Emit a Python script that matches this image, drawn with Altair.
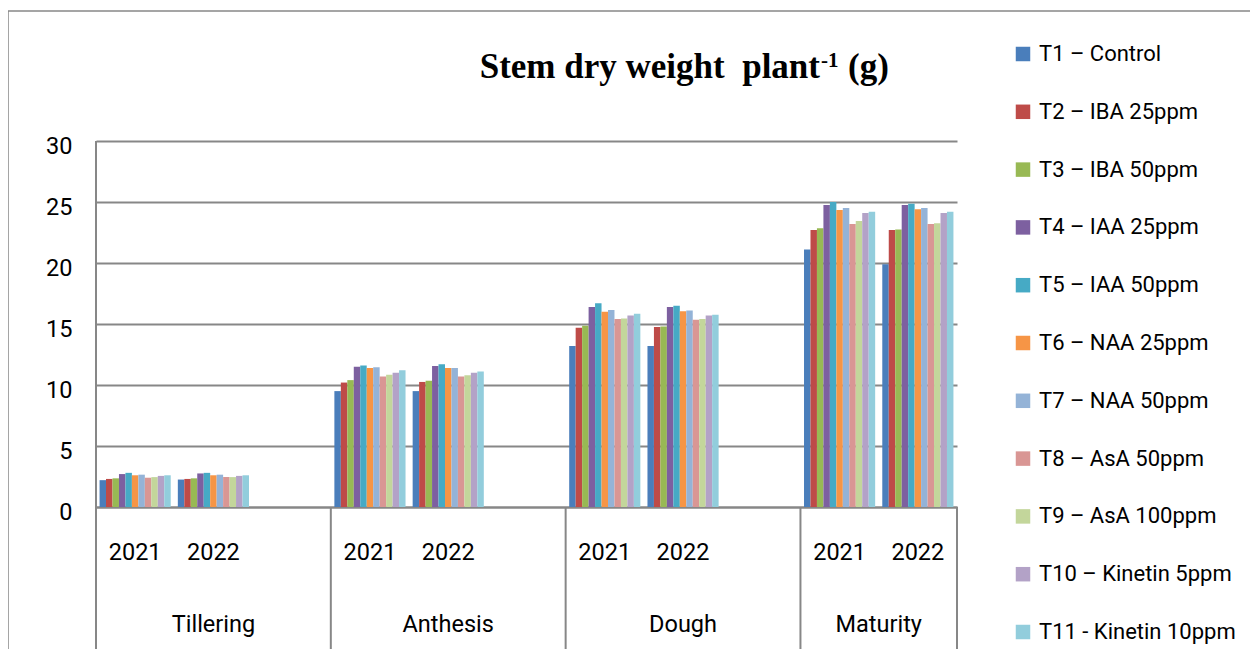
import altair as alt
import pandas as pd

# ---------------- data ----------------
series = ["T1 – Control", "T2 – IBA 25ppm", "T3 – IBA 50ppm", "T4 – IAA 25ppm",
          "T5 – IAA 50ppm", "T6 – NAA 25ppm", "T7 – NAA 50ppm", "T8 – AsA 50ppm",
          "T9 – AsA 100ppm", "T10 – Kinetin 5ppm", "T11 - Kinetin 10ppm"]
colors = ["#4A7EBB", "#BE4B48", "#98B954", "#7D60A0", "#46AAC5", "#F69546",
          "#94B3D7", "#D99694", "#C3D69B", "#B3A2C7", "#92CDDC"]
stages = ["Tillering", "Anthesis", "Dough", "Maturity"]
years = ["2021", "2022"]

tillering_2021 = [2.2, 2.3, 2.35, 2.7, 2.8, 2.6, 2.65, 2.4, 2.45, 2.55, 2.6]
tillering_2022 = [2.25, 2.3, 2.35, 2.75, 2.8, 2.6, 2.65, 2.45, 2.45, 2.55, 2.6]
anthesis_2021 = [9.5, 10.2, 10.4, 11.5, 11.6, 11.4, 11.45, 10.7, 10.85, 11.0, 11.2]
anthesis_2022 = [9.5, 10.25, 10.35, 11.55, 11.7, 11.4, 11.4, 10.7, 10.8, 11.0, 11.1]
dough_2021 = [13.2, 14.7, 14.85, 16.4, 16.7, 16.0, 16.15, 15.4, 15.45, 15.7, 15.85]
dough_2022 = [13.2, 14.75, 14.8, 16.4, 16.5, 16.05, 16.1, 15.35, 15.4, 15.7, 15.75]
maturity_2021 = [21.1, 22.7, 22.85, 24.75, 25.0, 24.35, 24.5, 23.2, 23.45, 24.1, 24.2]
maturity_2022 = [19.9, 22.7, 22.75, 24.75, 24.85, 24.4, 24.5, 23.2, 23.25, 24.1, 24.2]

y_ticks = [0, 5, 10, 15, 20, 25, 30]

values = {
    ("Tillering", "2021"): tillering_2021, ("Tillering", "2022"): tillering_2022,
    ("Anthesis", "2021"): anthesis_2021, ("Anthesis", "2022"): anthesis_2022,
    ("Dough", "2021"): dough_2021, ("Dough", "2022"): dough_2022,
    ("Maturity", "2021"): maturity_2021, ("Maturity", "2022"): maturity_2022,
}

slots = []
for i, st in enumerate(stages):
    for yr in years:
        slots.append(f"{st} {yr}")
    if i < len(stages) - 1:
        slots.append(f"{st} gap")

rows = []
for (st, yr), vals in values.items():
    for s, v in zip(series, vals):
        rows.append({"slot": f"{st} {yr}", "series": s, "value": v})
df = pd.DataFrame(rows)

# ---------------- layout ----------------
W, H = 861, 366
PAD_L, PAD_T = 88, 133
PAD_R = 1242 - PAD_L - W
PAD_B = 641 - PAD_T - H
GRAY = "#878787"
FONT = "Roboto"

x_scale = alt.Scale(domain=slots, paddingInner=0, paddingOuter=0)

bars = alt.Chart(df).mark_bar(strokeWidth=0).encode(
    x=alt.X("slot:N", scale=x_scale, sort=slots,
            axis=alt.Axis(title=None, ticks=False, tickSize=0, labelAngle=0,
                          labelExpr="indexof(datum.value, 'gap') >= 0 ? '' : split(datum.value, ' ')[1]",
                          labelPadding=45, labelBaseline="middle", labelFont=FONT,
                          labelFontSize=23.5, labelColor="black",
                          domainColor=GRAY, domainWidth=2, grid=False)),
    xOffset=alt.XOffset("series:N", scale=alt.Scale(domain=series, paddingInner=0,
                                                     paddingOuter=0.55), sort=series),
    y=alt.Y("value:Q", scale=alt.Scale(domain=[0, 30], nice=False),
            axis=alt.Axis(title=None, values=y_ticks, ticks=False, labelPadding=24,
                          labelOffset=5, labelFont=FONT, labelFontSize=23.5,
                          labelColor="black", domain=False, grid=True,
                          gridColor=GRAY, gridWidth=2)),
    color=alt.Color("series:N", scale=alt.Scale(domain=series, range=colors), sort=series,
                    legend=alt.Legend(title=None, orient="none", legendX=916, legendY=-98,
                                      symbolType="square", symbolSize=210, symbolStrokeWidth=0,
                                      labelFont=FONT, labelFontSize=22, labelColor="black",
                                      labelOffset=5, labelLimit=400, rowPadding=35.8,
                                      padding=0, direction="vertical")),
)

one = pd.DataFrame({"k": [0]})

# separators between stages (below the axis)
sep_df = pd.DataFrame({"slot": [s for s in slots if s.endswith("gap")]})
seps = alt.Chart(sep_df).mark_rule(color=GRAY, strokeWidth=2).encode(
    x=alt.X("slot:N", scale=x_scale, sort=slots, bandPosition=1),
    y=alt.value(H), y2=alt.value(H + PAD_B),
)
left_line = alt.Chart(one).mark_rule(color=GRAY, strokeWidth=2).encode(
    x=alt.value(0), y=alt.value(0), y2=alt.value(H + PAD_B))
right_line = alt.Chart(one).mark_rule(color=GRAY, strokeWidth=2).encode(
    x=alt.value(W), y=alt.value(H), y2=alt.value(H + PAD_B))

# outer chart frame
frame_top = alt.Chart(one).mark_rule(color=GRAY, strokeWidth=1.5).encode(
    x=alt.value(-PAD_L), x2=alt.value(W + PAD_R), y=alt.value(-PAD_T + 3))
frame_left = alt.Chart(one).mark_rule(color=GRAY, strokeWidth=1.5).encode(
    x=alt.value(-PAD_L), y=alt.value(-PAD_T + 3), y2=alt.value(H + PAD_B))

# stage labels
st_df = pd.DataFrame({"slot": [f"{s} 2022" for s in stages[:3]], "label": stages[:3]})
stage_txt = alt.Chart(st_df).mark_text(font=FONT, fontSize=23.5, color="black",
                                       baseline="middle", align="center").encode(
    x=alt.X("slot:N", scale=x_scale, sort=slots, bandPosition=0.5),
    y=alt.value(H + 118), text="label:N")
mat_df = pd.DataFrame({"slot": ["Maturity 2021"], "label": [stages[3]]})
mat_txt = alt.Chart(mat_df).mark_text(font=FONT, fontSize=23.5, color="black",
                                      baseline="middle", align="center").encode(
    x=alt.X("slot:N", scale=x_scale, sort=slots, bandPosition=1),
    y=alt.value(H + 118), text="label:N")

# title (with superscript)
t_main = alt.Chart(one).mark_text(font="Liberation Serif", fontWeight="bold", fontSize=35,
                                  color="black", align="right", baseline="alphabetic").encode(
    x=alt.value(724), y=alt.value(-63), text=alt.value("Stem dry weight\u00a0 plant"))
t_sup = alt.Chart(one).mark_text(font="Liberation Serif", fontWeight="bold", fontSize=21,
                                 color="black", align="left", baseline="alphabetic").encode(
    x=alt.value(725), y=alt.value(-74), text=alt.value("-1"))
t_end = alt.Chart(one).mark_text(font="Liberation Serif", fontWeight="bold", fontSize=35,
                                 color="black", align="left", baseline="alphabetic").encode(
    x=alt.value(752), y=alt.value(-63), text=alt.value("(g)"))

chart = alt.layer(
    bars, seps, left_line, right_line, frame_top, frame_left,
    stage_txt, mat_txt, t_main, t_sup, t_end
).properties(
    width=W, height=H,
    padding={"left": PAD_L, "top": PAD_T, "right": PAD_R, "bottom": PAD_B},
    autosize=alt.AutoSizeParams(type="none"),
).configure_view(stroke=None)

chart.save("out.html", embed_options={"renderer": "svg", "actions": False})
